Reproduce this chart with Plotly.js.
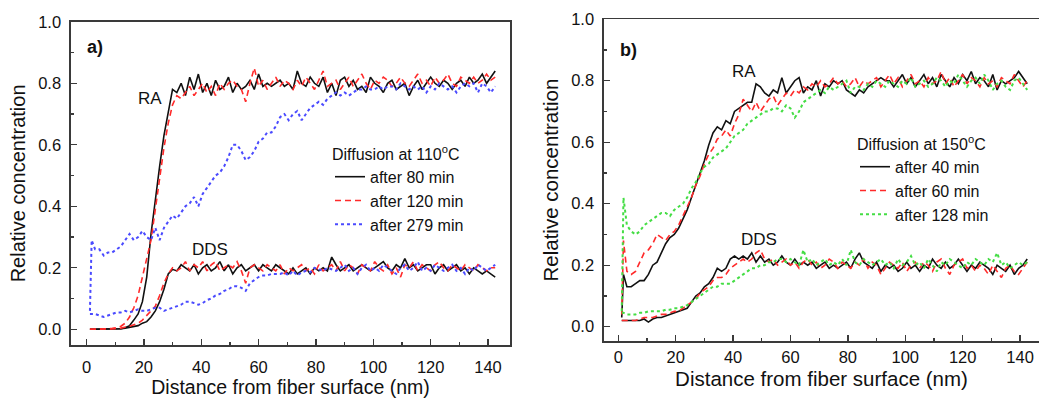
<!DOCTYPE html>
<html>
<head>
<meta charset="utf-8">
<script src="https://cdn.plot.ly/plotly-3.0.1.min.js"></script>
<style>html,body{margin:0;padding:0;background:#fff;}#chart{width:1039px;height:398px;}</style>
</head>
<body>
<div id="chart"></div>
<script>
// Distance from fiber surface (nm), shared grid
const dist = [1.2,1.8,3,4.5,6,7.5,9,10.5,12,13.5,
  15,16.5,18,19.5,21,22.5,24,25.5,27,28.5,
  30,31.5,33,34.5,36,37.5,39,40.5,42,43.5,
  45,46.5,48,49.5,51,52.5,54,55.5,57,58.5,
  60,61.5,63,64.5,66,67.5,69,70.5,72,73.5,
  75,76.5,78,79.5,81,82.5,84,85.5,87,88.5,
  90,91.5,93,94.5,96,97.5,99,100.5,102,103.5,
  105,106.5,108,109.5,111,112.5,114,115.5,117,118.5,
  120,121.5,123,124.5,126,127.5,129,130.5,132,133.5,
  135,136.5,138,139.5,141,142.5];

// ---- Panel a) Diffusion at 110 °C ----
const ra80 = [0,0,0,0,0,0,0,0,0.002,0.005,
  0.012,0.03,0.05,0.09,0.17,0.31,0.43,0.53,0.63,0.71,
  0.78,0.77,0.80,0.76,0.82,0.78,0.83,0.77,0.80,0.76,
  0.81,0.78,0.79,0.82,0.77,0.80,0.78,0.79,0.81,0.78,
  0.83,0.79,0.80,0.79,0.80,0.81,0.79,0.80,0.78,0.84,
  0.80,0.79,0.82,0.80,0.79,0.82,0.77,0.80,0.76,0.81,
  0.82,0.79,0.81,0.78,0.79,0.77,0.82,0.80,0.79,0.77,
  0.80,0.81,0.78,0.79,0.80,0.76,0.79,0.81,0.78,0.80,
  0.82,0.80,0.79,0.81,0.80,0.78,0.80,0.81,0.79,0.82,
  0.80,0.81,0.83,0.80,0.82,0.84];
const ra120 = [0,0,0,0,0,0.002,0.003,0.005,0.01,0.02,
  0.04,0.07,0.11,0.17,0.22,0.29,0.39,0.49,0.59,0.67,
  0.73,0.76,0.75,0.77,0.79,0.76,0.78,0.80,0.77,0.79,
  0.76,0.80,0.78,0.80,0.81,0.79,0.78,0.74,0.80,0.85,
  0.79,0.81,0.78,0.80,0.82,0.79,0.81,0.80,0.78,0.81,
  0.79,0.82,0.80,0.78,0.81,0.84,0.79,0.80,0.81,0.78,
  0.80,0.82,0.79,0.81,0.83,0.80,0.78,0.81,0.80,0.82,
  0.81,0.79,0.80,0.82,0.80,0.79,0.81,0.83,0.80,0.81,
  0.79,0.82,0.80,0.81,0.83,0.80,0.79,0.82,0.81,0.80,
  0.82,0.80,0.81,0.83,0.81,0.82];
const ra279 = [0.06,0.29,0.26,0.26,0.24,0.25,0.25,0.26,0.27,0.29,
  0.31,0.29,0.30,0.32,0.30,0.29,0.33,0.29,0.33,0.35,
  0.37,0.36,0.38,0.40,0.41,0.43,0.40,0.44,0.46,0.48,
  0.50,0.51,0.53,0.56,0.60,0.60,0.58,0.55,0.56,0.58,
  0.61,0.62,0.64,0.64,0.66,0.69,0.70,0.68,0.70,0.71,
  0.68,0.70,0.72,0.73,0.74,0.73,0.75,0.76,0.77,0.76,
  0.77,0.76,0.77,0.78,0.78,0.79,0.78,0.78,0.79,0.78,
  0.79,0.79,0.78,0.80,0.79,0.78,0.79,0.78,0.79,0.77,
  0.79,0.78,0.80,0.79,0.78,0.79,0.77,0.79,0.80,0.79,
  0.80,0.77,0.80,0.79,0.77,0.79];
const dds80 = [0,0,0,0,0,0,0,0,0.002,0.004,
  0.006,0.008,0.012,0.02,0.025,0.04,0.06,0.09,0.13,0.18,
  0.195,0.19,0.21,0.20,0.19,0.21,0.18,0.20,0.21,0.19,
  0.20,0.22,0.19,0.21,0.18,0.20,0.21,0.19,0.20,0.21,
  0.19,0.21,0.20,0.19,0.21,0.20,0.19,0.18,0.20,0.18,
  0.19,0.20,0.18,0.20,0.19,0.20,0.19,0.235,0.21,0.19,
  0.20,0.21,0.19,0.20,0.21,0.20,0.19,0.20,0.21,0.22,
  0.20,0.19,0.21,0.20,0.23,0.20,0.21,0.19,0.20,0.21,
  0.21,0.18,0.20,0.21,0.19,0.20,0.21,0.19,0.20,0.18,
  0.20,0.19,0.18,0.19,0.18,0.17];
const dds120 = [0,0,0,0,0,0,0,0.002,0.004,0.006,
  0.01,0.015,0.02,0.03,0.045,0.06,0.075,0.11,0.15,0.18,
  0.20,0.19,0.20,0.22,0.19,0.21,0.20,0.22,0.19,0.21,
  0.22,0.19,0.20,0.21,0.20,0.22,0.19,0.15,0.20,0.21,
  0.20,0.19,0.21,0.20,0.19,0.21,0.18,0.20,0.19,0.20,
  0.21,0.19,0.20,0.18,0.21,0.19,0.20,0.21,0.19,0.22,
  0.19,0.21,0.20,0.18,0.21,0.20,0.19,0.22,0.20,0.19,
  0.21,0.18,0.20,0.17,0.21,0.20,0.22,0.19,0.21,0.20,
  0.19,0.21,0.22,0.20,0.19,0.21,0.20,0.19,0.21,0.20,
  0.19,0.21,0.20,0.19,0.20,0.20];
const dds279 = [0.05,0.05,0.05,0.045,0.04,0.045,0.05,0.055,0.055,0.06,
  0.055,0.06,0.065,0.06,0.06,0.065,0.07,0.07,0.06,0.065,
  0.07,0.075,0.08,0.09,0.09,0.085,0.08,0.085,0.095,0.10,
  0.11,0.115,0.125,0.13,0.14,0.14,0.135,0.125,0.15,0.16,
  0.17,0.175,0.175,0.18,0.18,0.18,0.185,0.175,0.19,0.175,
  0.185,0.19,0.185,0.20,0.195,0.19,0.20,0.195,0.19,0.20,
  0.21,0.19,0.20,0.18,0.20,0.21,0.19,0.20,0.19,0.21,
  0.20,0.19,0.18,0.20,0.21,0.19,0.20,0.22,0.19,0.20,
  0.19,0.21,0.20,0.19,0.20,0.21,0.19,0.20,0.18,0.20,
  0.19,0.21,0.20,0.19,0.20,0.21];

// ---- Panel b) Diffusion at 150 °C ----
const ra40 = [0.03,0.17,0.13,0.13,0.14,0.15,0.15,0.17,0.20,0.21,
  0.24,0.27,0.29,0.30,0.32,0.35,0.38,0.42,0.46,0.50,
  0.54,0.59,0.63,0.65,0.64,0.67,0.66,0.70,0.71,0.72,
  0.73,0.73,0.79,0.78,0.76,0.75,0.77,0.76,0.81,0.76,
  0.78,0.80,0.81,0.76,0.78,0.77,0.80,0.75,0.79,0.78,
  0.80,0.79,0.80,0.77,0.76,0.75,0.77,0.76,0.78,0.79,
  0.80,0.81,0.80,0.80,0.78,0.80,0.82,0.79,0.81,0.78,
  0.80,0.82,0.79,0.81,0.78,0.82,0.80,0.78,0.81,0.79,
  0.82,0.80,0.83,0.79,0.81,0.80,0.78,0.82,0.77,0.80,
  0.79,0.80,0.81,0.83,0.81,0.79];
const ra60 = [0.04,0.28,0.18,0.17,0.18,0.21,0.24,0.25,0.27,0.30,
  0.29,0.28,0.30,0.31,0.33,0.36,0.39,0.42,0.46,0.49,
  0.53,0.56,0.58,0.61,0.62,0.64,0.62,0.66,0.69,0.74,
  0.72,0.70,0.73,0.70,0.72,0.74,0.75,0.72,0.74,0.76,
  0.75,0.77,0.76,0.78,0.77,0.79,0.78,0.80,0.78,0.79,
  0.81,0.79,0.80,0.78,0.79,0.81,0.78,0.80,0.79,0.80,
  0.81,0.78,0.80,0.82,0.79,0.81,0.78,0.80,0.82,0.79,
  0.80,0.78,0.81,0.79,0.80,0.83,0.79,0.81,0.78,0.80,
  0.82,0.79,0.81,0.80,0.78,0.81,0.79,0.80,0.78,0.81,
  0.80,0.79,0.82,0.80,0.78,0.80];
const ra128 = [0.05,0.42,0.33,0.31,0.30,0.31,0.33,0.34,0.35,0.36,
  0.37,0.37,0.36,0.38,0.39,0.40,0.42,0.45,0.47,0.50,
  0.52,0.53,0.55,0.56,0.57,0.58,0.60,0.62,0.63,0.64,
  0.66,0.67,0.68,0.69,0.70,0.70,0.71,0.71,0.70,0.72,
  0.71,0.68,0.70,0.73,0.74,0.75,0.76,0.77,0.76,0.78,
  0.77,0.78,0.79,0.80,0.76,0.78,0.78,0.77,0.79,0.78,
  0.80,0.79,0.78,0.80,0.79,0.78,0.80,0.79,0.81,0.78,
  0.79,0.80,0.78,0.79,0.81,0.80,0.78,0.80,0.79,0.82,
  0.80,0.78,0.80,0.81,0.79,0.82,0.80,0.77,0.79,0.80,
  0.78,0.77,0.80,0.81,0.79,0.77];
const dds40 = [0.02,0.02,0.02,0.02,0.02,0.02,0.025,0.015,0.025,0.03,
  0.03,0.035,0.04,0.045,0.05,0.055,0.06,0.08,0.10,0.11,
  0.13,0.14,0.16,0.19,0.18,0.19,0.22,0.23,0.22,0.23,
  0.22,0.24,0.21,0.23,0.21,0.22,0.20,0.21,0.23,0.21,
  0.20,0.22,0.20,0.21,0.20,0.21,0.19,0.20,0.21,0.19,
  0.20,0.19,0.20,0.21,0.19,0.22,0.24,0.21,0.20,0.19,
  0.21,0.18,0.20,0.19,0.20,0.18,0.19,0.21,0.19,0.20,
  0.18,0.20,0.19,0.22,0.20,0.19,0.21,0.19,0.20,0.22,
  0.20,0.18,0.20,0.19,0.21,0.20,0.19,0.17,0.20,0.19,
  0.18,0.20,0.17,0.19,0.20,0.22];
const dds60 = [0.02,0.02,0.02,0.02,0.02,0.025,0.03,0.03,0.03,0.035,
  0.04,0.04,0.045,0.05,0.05,0.06,0.07,0.08,0.09,0.11,
  0.12,0.13,0.15,0.16,0.16,0.17,0.19,0.20,0.21,0.22,
  0.21,0.22,0.24,0.25,0.22,0.21,0.22,0.20,0.21,0.22,
  0.20,0.21,0.19,0.21,0.22,0.20,0.21,0.19,0.20,0.22,
  0.21,0.19,0.21,0.20,0.19,0.21,0.20,0.22,0.19,0.21,
  0.20,0.17,0.19,0.21,0.20,0.19,0.21,0.18,0.20,0.21,
  0.19,0.21,0.20,0.18,0.21,0.22,0.19,0.17,0.20,0.21,
  0.22,0.19,0.20,0.18,0.20,0.19,0.17,0.20,0.18,0.16,
  0.19,0.20,0.18,0.17,0.19,0.21];
const dds128 = [0.045,0.045,0.04,0.04,0.04,0.045,0.045,0.05,0.05,0.05,
  0.05,0.055,0.055,0.06,0.06,0.065,0.07,0.08,0.09,0.10,
  0.11,0.12,0.13,0.13,0.14,0.14,0.14,0.15,0.16,0.17,
  0.18,0.19,0.19,0.20,0.20,0.21,0.21,0.22,0.22,0.21,
  0.22,0.21,0.20,0.25,0.21,0.22,0.20,0.21,0.22,0.20,
  0.21,0.20,0.22,0.20,0.25,0.21,0.20,0.22,0.21,0.20,
  0.21,0.22,0.20,0.21,0.19,0.22,0.20,0.21,0.23,0.20,
  0.21,0.19,0.22,0.20,0.18,0.21,0.20,0.22,0.21,0.20,
  0.19,0.21,0.20,0.22,0.21,0.20,0.22,0.21,0.24,0.20,
  0.21,0.19,0.20,0.21,0.20,0.21];

const namesA = ["after 80 min", "after 120 min", "after 279 min"];
const namesB = ["after 40 min", "after 60 min", "after 128 min"];
const titleA = "Diffusion at 110<sup>o</sup>C";
const titleB = "Diffusion at 150<sup>o</sup>C";

const FONT = "Liberation Sans, Arial, Helvetica, sans-serif";
const TXT = "#111111";
const styles = [
  {color: "#111111", width: 1.6, dash: "solid"},
  {color: "#ff2a2a", width: 1.6, dash: "6px,4px"},
  {color: "#4a4aff", width: 2.0, dash: "dot"}
];
const stylesB = [
  styles[0], styles[1],
  {color: "#44dd44", width: 2.0, dash: "dot"}
];

function mk(y, name, st, xa, ya, leg, show, grp) {
  return {x: dist, y: y, type: "scatter", mode: "lines", name: name,
    line: {color: st.color, width: st.width, dash: st.dash},
    xaxis: xa, yaxis: ya, legend: leg, showlegend: show, legendgroup: grp,
    hoverinfo: "skip"};
}

const seriesA = [[ra80, dds80], [ra120, dds120], [ra279, dds279]];
const seriesB = [[ra40, dds40], [ra60, dds60], [ra128, dds128]];
const traces = [];
seriesA.forEach((s, i) => {
  traces.push(mk(s[0], namesA[i], styles[i], "x", "y", "legend", true, "a" + i));
  traces.push(mk(s[1], namesA[i], styles[i], "x", "y", "legend", false, "a" + i));
});
seriesB.forEach((s, i) => {
  traces.push(mk(s[0], namesB[i], stylesB[i], "x2", "y2", "legend2", true, "b" + i));
  traces.push(mk(s[1], namesB[i], stylesB[i], "x2", "y2", "legend2", false, "b" + i));
});

const axCommon = {
  showline: true, linecolor: "#3a3a3a", linewidth: 1.6,
  ticks: "inside", ticklen: 6, tickwidth: 1.3, tickcolor: "#3a3a3a",
  showgrid: false, zeroline: false, automargin: false,
  tickfont: {family: FONT, size: 16.5, color: TXT}
};

const W = 1039, H = 398;
const layout = {
  width: W, height: H,
  margin: {l: 0, r: 0, t: 0, b: 0},
  paper_bgcolor: "#fff", plot_bgcolor: "#fff",
  font: {family: FONT, color: TXT},
  showlegend: true,
  xaxis: Object.assign({}, axCommon, {
    domain: [71 / W, 510 / W], range: [-5.4, 147.66], anchor: "y",
    dtick: 20, tick0: 0, mirror: true, ticklabelstandoff: 7,
    minor: {dtick: 10, ticks: "inside", ticklen: 3, tickcolor: "#3a3a3a", tickwidth: 1.2},
    title: {text: "Distance from fiber surface (nm)", font: {family: FONT, size: 19.5, color: TXT}, standoff: 7}
  }),
  yaxis: Object.assign({}, axCommon, {
    domain: [1 - 345 / H, 1 - 21.8 / H], range: [-0.051, 1.0], anchor: "x",
    dtick: 0.2, tick0: 0, tickformat: ".1f", mirror: true, ticklabelstandoff: 5,
    minor: {dtick: 0.1, ticks: "inside", ticklen: 3, tickcolor: "#3a3a3a", tickwidth: 1.2},
    title: {text: "Relative concentration", font: {family: FONT, size: 20, color: TXT}, standoff: 7}
  }),
  xaxis2: Object.assign({}, axCommon, {
    domain: [604 / W, 1], range: [-4.98, 146.6], anchor: "y2",
    dtick: 20, tick0: 0, mirror: true, ticklabelstandoff: 1,
    minor: {dtick: 10, ticks: "inside", ticklen: 3, tickcolor: "#3a3a3a", tickwidth: 1.2},
    title: {text: "Distance from fiber surface (nm)", font: {family: FONT, size: 20.5, color: TXT}, standoff: 6}
  }),
  yaxis2: Object.assign({}, axCommon, {
    domain: [1 - 341 / H, 1 - 19.2 / H], range: [-0.0465, 1.0], anchor: "x2",
    dtick: 0.2, tick0: 0, tickformat: ".1f", mirror: false, ticklabelstandoff: 5,
    minor: {dtick: 0.1, ticks: "inside", ticklen: 3, tickcolor: "#3a3a3a", tickwidth: 1.2},
    title: {text: "Relative concentration", font: {family: FONT, size: 20.5, color: TXT}, standoff: 7}
  }),
  legend: {
    x: 330 / W, xanchor: "left", y: 1 - 139 / H, yanchor: "top",
    bgcolor: "rgba(0,0,0,0)", borderwidth: 0, tracegroupgap: 0,
    font: {family: FONT, size: 16, color: TXT},
    title: {text: titleA, font: {family: FONT, size: 16, color: TXT}}
  },
  legend2: {
    x: 855 / W, xanchor: "left", y: 1 - 129 / H, yanchor: "top",
    bgcolor: "rgba(0,0,0,0)", borderwidth: 0, tracegroupgap: 0,
    font: {family: FONT, size: 16, color: TXT},
    title: {text: titleB, font: {family: FONT, size: 16, color: TXT}}
  },
  annotations: [
    {text: "<b>a)</b>", x: 2.8, y: 0.918, xref: "x", yref: "y", showarrow: false, font: {family: FONT, size: 18, color: TXT}},
    {text: "RA", x: 22.3, y: 0.752, xref: "x", yref: "y", showarrow: false, font: {family: FONT, size: 17, color: TXT}},
    {text: "DDS", x: 42.9, y: 0.258, xref: "x", yref: "y", showarrow: false, font: {family: FONT, size: 17, color: TXT}},
    {text: "<b>b)</b>", x: 3.7, y: 0.90, xref: "x2", yref: "y2", showarrow: false, font: {family: FONT, size: 18, color: TXT}},
    {text: "RA", x: 43.8, y: 0.829, xref: "x2", yref: "y2", showarrow: false, font: {family: FONT, size: 17, color: TXT}},
    {text: "DDS", x: 49, y: 0.282, xref: "x2", yref: "y2", showarrow: false, font: {family: FONT, size: 17, color: TXT}}
  ]
};

Plotly.newPlot("chart", traces, layout, {displayModeBar: false, staticPlot: true});
</script>
</body>
</html>
